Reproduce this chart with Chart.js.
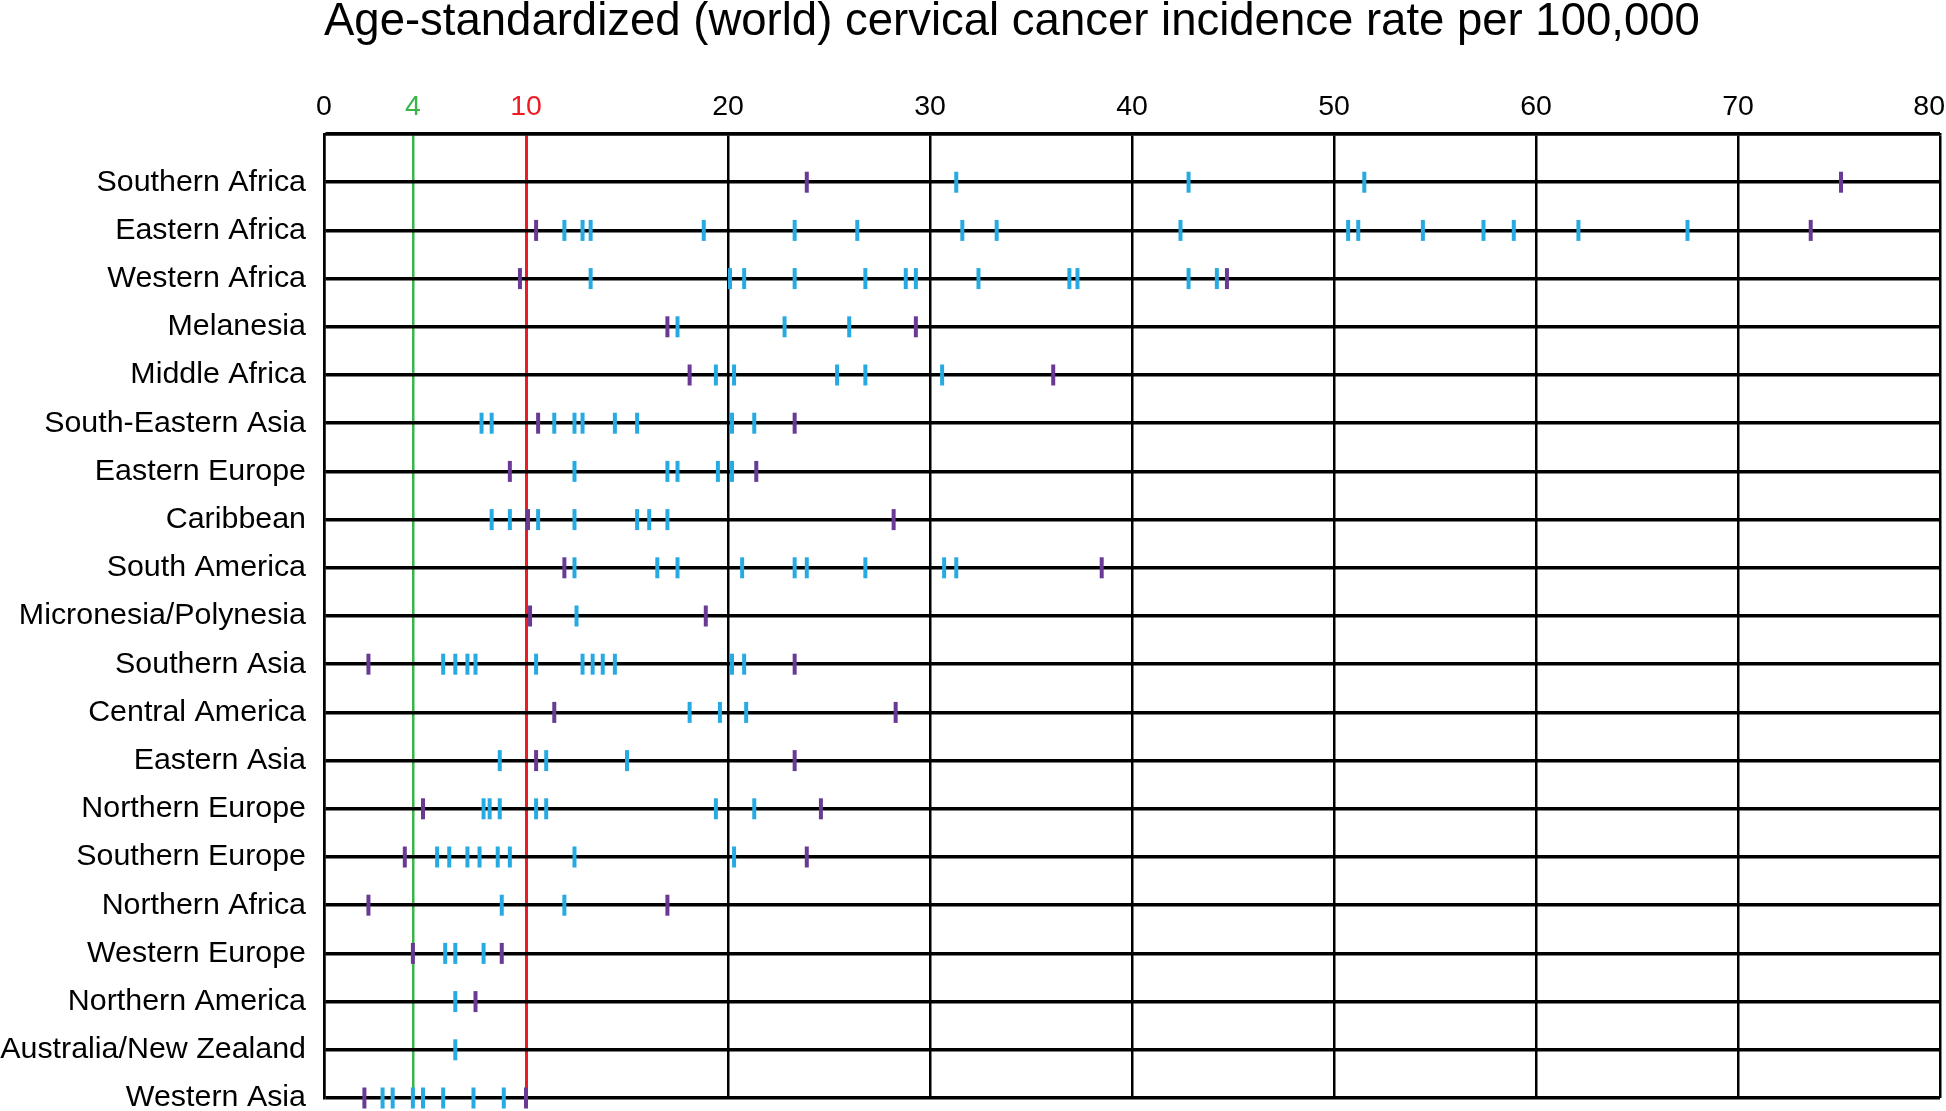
<!DOCTYPE html>
<html>
<head>
<meta charset="utf-8">
<script src="https://cdn.jsdelivr.net/npm/chart.js@4.4.1/dist/chart.umd.min.js"></script>
<style>
  body { margin: 0; background: #fff; }
</style>
</head>
<body>
<canvas id="cervical-chart" width="1946" height="1111"></canvas>
<script>
// Regions, top to bottom
const regions = [
  'Southern Africa', 'Eastern Africa', 'Western Africa', 'Melanesia', 'Middle Africa',
  'South-Eastern Asia', 'Eastern Europe', 'Caribbean', 'South America', 'Micronesia/Polynesia',
  'Southern Asia', 'Central America', 'Eastern Asia', 'Northern Europe', 'Southern Europe',
  'Northern Africa', 'Western Europe', 'Northern America', 'Australia/New Zealand', 'Western Asia',
];

// Country rates (blue marks), one list per region
const blueRates = [
  [31.3, 42.8, 51.5],
  [11.9, 12.8, 13.2, 18.8, 23.3, 26.4, 31.6, 33.3, 42.4, 50.7, 51.2, 54.4, 57.4, 58.9, 62.1, 67.5],
  [13.2, 20.1, 20.8, 23.3, 26.8, 28.8, 29.3, 32.4, 36.9, 37.3, 42.8, 44.2],
  [17.5, 22.8, 26.0],
  [19.4, 20.3, 25.4, 26.8, 30.6],
  [7.8, 8.3, 11.4, 12.4, 12.8, 14.4, 15.5, 20.2, 21.3],
  [12.4, 17.0, 17.5, 19.5, 20.2],
  [8.3, 9.2, 10.6, 12.4, 15.5, 16.1, 17.0],
  [12.4, 16.5, 17.5, 20.7, 23.3, 23.9, 26.8, 30.7, 31.3],
  [12.5],
  [5.9, 6.5, 7.1, 7.5, 10.5, 12.8, 13.3, 13.8, 14.4, 20.2, 20.8],
  [18.1, 19.6, 20.9],
  [8.7, 11.0, 15.0],
  [7.9, 8.2, 8.7, 10.5, 11.0, 19.4, 21.3],
  [5.6, 6.2, 7.1, 7.7, 8.6, 9.2, 12.4, 20.3],
  [8.8, 11.9],
  [6.0, 6.5, 7.9],
  [6.5],
  [6.5],
  [2.9, 3.4, 4.4, 4.9, 5.9, 7.4, 8.9],
];

// Purple marks, one list per region
const purpleRates = [
  [23.9, 75.1],
  [10.5, 73.6],
  [9.7, 44.7],
  [17.0, 29.3],
  [18.1, 36.1],
  [10.6, 23.3],
  [9.2, 21.4],
  [10.1, 28.2],
  [11.9, 38.5],
  [10.2, 18.9],
  [2.2, 23.3],
  [11.4, 28.3],
  [10.5, 23.3],
  [4.9, 24.6],
  [4.0, 23.9],
  [2.2, 17.0],
  [4.4, 8.8],
  [7.5],
  [],
  [2.0, 10.0],
];

// Top axis ticks (green reference line sits at 4.4 in the picture)
const xTickValues = [0, 4.4, 10, 20, 30, 40, 50, 60, 70, 80];
// last label padded so it stays inside the page like in the original
const xTickLabels = ['0', '4', '10', '20', '30', '40', '50', '60', '70', '80\u2007\u2009'];

const GREEN = '#39b54a';
const RED = '#ed1c24';
const BLUE = '#27aae1';
const PURPLE = '#683a93';
const FONT = "'Liberation Sans', Arial, Helvetica, sans-serif";

const toPoints = (lists) => lists.flatMap((vals, row) => vals.map((v) => ({ x: v, y: row })));

const markStyle = (color) => ({
  pointStyle: 'line',
  rotation: 90,
  radius: 10.5,
  hoverRadius: 10.5,
  borderWidth: 4,
  hoverBorderWidth: 4,
  borderColor: color,
  backgroundColor: color,
  showLine: false,
  clip: false,
});

const lineColor = (c) => (c.tick.value === 4.4 ? GREEN : c.tick.value === 10 ? RED : '#000');

const ctx = document.getElementById('cervical-chart');

new Chart(ctx, {
  type: 'scatter',
  data: {
    datasets: [
      { label: 'Countries', data: toPoints(blueRates), ...markStyle(BLUE) },
      { label: 'Extremes', data: toPoints(purpleRates), ...markStyle(PURPLE) },
    ],
  },
  options: {
    responsive: false,
    devicePixelRatio: 1,
    animation: false,
    events: [],
    layout: {
      autoPadding: false,
      padding: { left: 0, right: 6, top: 0, bottom: 13 },
    },
    plugins: {
      legend: { display: false },
      tooltip: { enabled: false },
      title: {
        display: true,
        text: 'Age-standardized (world) cervical cancer incidence rate per 100,000',
        fullSize: false,
        align: 'start',
        color: '#000',
        font: { family: FONT, size: 45.5, weight: 'normal', lineHeight: 1 },
        padding: { top: 0, bottom: 0 },
      },
    },
    scales: {
      x: {
        type: 'linear',
        position: 'top',
        min: 0,
        max: 80,
        afterBuildTicks: (s) => { s.ticks = xTickValues.map((v) => ({ value: v })); },
        afterFit: (s) => {
          s.height = 88.5;
          s.paddingLeft = 0;
          s.paddingRight = 0;
        },
        ticks: {
          autoSkip: false,
          maxRotation: 0,
          padding: 10,
          font: { family: FONT, size: 28.5 },
          color: lineColor,
          callback: (v, i) => xTickLabels[i],
        },
        grid: {
          drawTicks: false,
          color: lineColor,
          lineWidth: (c) => (c.tick.value === 10 ? 3 : 2.5),
        },
        border: { display: true, color: '#000', width: 2.5 },
      },
      y: {
        type: 'linear',
        reverse: true,
        min: -1,
        max: 19,
        afterBuildTicks: (s) => {
          s.ticks = [];
          for (let i = -1; i <= 19; i++) s.ticks.push({ value: i });
        },
        afterFit: (s) => {
          s.width = 324;
          s.paddingTop = 0;
          s.paddingBottom = 0;
        },
        ticks: {
          autoSkip: false,
          padding: 18,
          color: '#000',
          font: { family: FONT, size: 30.4 },
          callback: (v) => regions[v] ?? '',
        },
        grid: {
          drawTicks: false,
          color: '#000',
          lineWidth: 3.5,
        },
        border: { display: true, color: '#000', width: 2.5 },
      },
    },
  },
});
</script>
</body>
</html>
